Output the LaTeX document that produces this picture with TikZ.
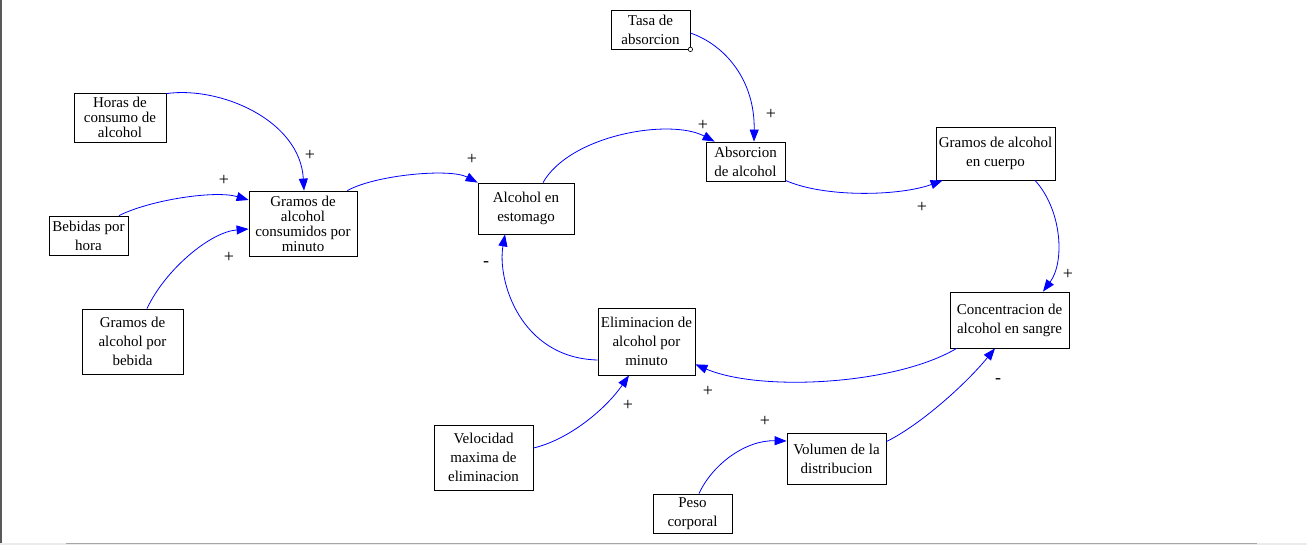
\documentclass[tikz,border=0pt]{standalone}
\usepackage{fontspec}
\setmainfont{Liberation Serif}
\usetikzlibrary{arrows.meta}
\definecolor{linkblue}{RGB}{0,0,255}
\tikzset{
  varbox/.style={draw=black, line width=0.8pt, fill=white, inner sep=0pt, align=center,
    font=\fontsize{15}{19}\selectfont},
  tightbox/.style={varbox, font=\fontsize{15}{15}\selectfont},
  link/.style={draw=linkblue, line width=0.8pt, -{Triangle[length=12pt,width=9pt]}},
  sign/.style={font=\fontsize{18}{19}\selectfont, inner sep=0pt, text=black}
}
\begin{document}
\begin{tikzpicture}[x=1pt,y=-1pt]
\useasboundingbox (0,0) rectangle (1307,545);
% window frame
\draw[gray!70!black, line width=1.5pt] (0.75,0) -- (0.75,545);
\fill[gray!15] (0,543) rectangle (1307,545);
\draw[gray!70, line width=1pt] (66,543.5) -- (1257,543.5);

% nodes
\node[tightbox, minimum width=92pt, minimum height=49pt] (horas) at (120,117.5) {Horas de\\consumo de\\alcohol};
\node[varbox, minimum width=79pt, minimum height=39pt] (bebidas) at (88.5,235.5) {Bebidas por\\hora};
\node[tightbox, minimum width=108pt, minimum height=65pt] (gc) at (303,223.5) {Gramos de\\alcohol\\consumidos por\\minuto};
\node[varbox, minimum width=101pt, minimum height=65pt] (gpb) at (132.5,341.5) {Gramos de\\alcohol por\\bebida};
\node[varbox, minimum width=79pt, minimum height=39pt] (tasa) at (650.5,29.5) {Tasa de\\absorcion};
\node[varbox, minimum width=96pt, minimum height=51pt] (est) at (526,208.5) {Alcohol en\\estomago};
\node[varbox, minimum width=79pt, minimum height=39pt] (abs) at (745.5,161.5) {Absorcion\\de alcohol};
\node[varbox, minimum width=119pt, minimum height=53pt] (gcu) at (995.5,153.5) {Gramos de alcohol\\en cuerpo};
\node[varbox, minimum width=119pt, minimum height=56pt] (conc) at (1009.5,320) {Concentracion de\\alcohol en sangre};
\node[varbox, minimum width=97pt, minimum height=67pt] (elim) at (646.5,341.5) {Eliminacion de\\alcohol por\\minuto};
\node[varbox, minimum width=99pt, minimum height=65pt] (vel) at (483.5,457.5) {Velocidad\\maxima de\\eliminacion};
\node[varbox, minimum width=99pt, minimum height=51pt] (vol) at (836.5,458.5) {Volumen de la\\distribucion};
\node[varbox, minimum width=79pt, minimum height=39pt] (peso) at (692.5,513.5) {Peso\\corporal};

% small marker on Tasa de absorcion
\draw[black, fill=white, line width=0.6pt] (tasa.south east) circle (2.2pt);

% connectors
\draw[link] ([yshift=-1pt]horas.north east) .. controls (220,86) and (300,120) .. ([xshift=1pt]gc.north);
\draw[link] ([xshift=30.5pt]bebidas.north) .. controls (150,200) and (215,190) .. ([yshift=23.5pt]gc.west);
\draw[link] ([xshift=14.5pt]gpb.north) .. controls (165,270) and (210,232) .. ([yshift=-5.5pt]gc.west);
\draw[link] ([xshift=-10pt]gc.north east) .. controls (375,175) and (450,168) .. (est.north west);
\draw[link] ([xshift=17pt]est.north) .. controls (570,135) and (670,118) .. ([xshift=9pt]abs.north west);
\draw[link] ([yshift=-3.5pt]tasa.east) .. controls (725,45) and (755,80) .. ([xshift=8.5pt]abs.north);
\draw[link] ([yshift=1pt]abs.south east) .. controls (825,198) and (900,196) .. ([xshift=7pt]gcu.south west);
\draw[link] ([xshift=39.5pt]gcu.south) .. controls (1062,210) and (1065,262) .. ([xshift=33.5pt]conc.north);
\draw[link] ([xshift=7pt]conc.south west) .. controls (895,385) and (760,392) .. ([yshift=11pt]elim.south east);
\draw[link] ([yshift=-9pt]vol.north east) .. controls (920,425) and (965,385) .. ([xshift=-14.5pt]conc.south);
\draw[link] ([xshift=6.5pt]peso.north) .. controls (712,465) and (745,440) .. ([yshift=17.5pt]vol.west);
\draw[link] ([yshift=9.5pt]vel.east) .. controls (568,440) and (605,410) .. ([xshift=-17.5pt]elim.south);
\draw[link] ([yshift=-18.5pt]elim.west) .. controls (520,358) and (497,280) .. ([xshift=-21pt]est.south);

% polarity signs
\node[sign] (s1) at (310,155) {+};
\node[sign] (s2) at (224,180) {+};
\node[sign] (s3) at (229,257) {+};
\node[sign] (s4) at (472,159) {+};
\node[sign] (s5) at (703,125) {+};
\node[sign] (s6) at (771,114) {+};
\node[sign] (s7) at (922,207) {+};
\node[sign] (s8) at (1068,274) {+};
\node[sign] (s9) at (708,391) {+};
\node[sign] (s10) at (765,421) {+};
\node[sign] (s11) at (628,405) {+};
\node[sign] (s12) at (486,264) {-};
\node[sign] (s13) at (998,381) {-};
\end{tikzpicture}
\end{document}
